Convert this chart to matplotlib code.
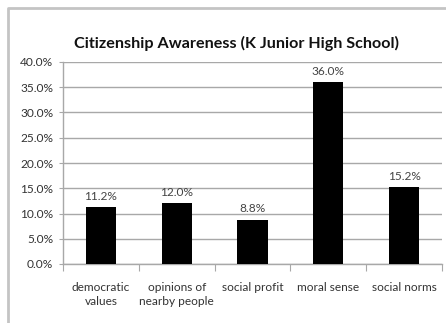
import matplotlib
matplotlib.use("Agg")
import matplotlib.pyplot as plt
from matplotlib.lines import Line2D
import numpy as np

categories = ["democratic\nvalues", "opinions of\nnearby people", "social profit", "moral sense", "social norms"]
values = [11.2, 12.0, 8.8, 36.0, 15.2]
labels = ["11.2%", "12.0%", "8.8%", "36.0%", "15.2%"]
yticks = [0, 5, 10, 15, 20, 25, 30, 35, 40]

plt.rcParams['font.family'] = ['Lato', 'DejaVu Sans']
W, H = 446, 323
fig = plt.figure(figsize=(W/100, H/100), dpi=100)
fig.patch.set_facecolor('white')

# outer border (left and top edges visible only)
bx, by = 7.5/W, 1-8/H
fig.lines.append(Line2D([bx, bx, 1.0], [0.0, by, by], transform=fig.transFigure,
                        color='#c4c4c4', linewidth=2.0))

ax = fig.add_axes([63/W, 1-264/H, (442-63)/W, (264-62)/H])
x = np.arange(len(values))
ax.bar(x, values, width=0.4, color='black', zorder=3)
ax.set_xlim(-0.5, len(values)-0.5)
ax.set_ylim(0, 40)
ax.set_yticks(yticks)
ax.set_yticklabels([f"{v:.1f}%" for v in yticks], fontsize=8.6, color='#333333')
ax.yaxis.grid(True, color='#a8a8a8', linewidth=1.0, zorder=0)
ax.set_axisbelow(True)
for s in ['top', 'right']:
    ax.spines[s].set_visible(False)
for s in ['left', 'bottom']:
    ax.spines[s].set_color('#a8a8a8')
    ax.spines[s].set_linewidth(1.0)
ax.tick_params(axis='y', length=3, color='#a8a8a8', pad=4)
ax.set_xticks(np.arange(len(values)+1) - 0.5)
ax.set_xticklabels([])
ax.tick_params(axis='x', length=5, color='#a8a8a8')
ax.set_xticks(x, minor=True)
ax.set_xticklabels(categories, minor=True, fontsize=8.6, color='#333333', linespacing=1.3)
ax.tick_params(axis='x', which='minor', length=0, pad=13)

for xi, v, lab in zip(x, values, labels):
    ax.annotate(lab, (xi, v), xytext=(0, 4), textcoords='offset points',
                ha='center', va='bottom', fontsize=8.6, color='#444444')

fig.text(236/W, 1-43/H, "Citizenship Awareness (K Junior High School)", ha='center', va='center',
         fontsize=11.6, fontweight='bold', color='#111111')

fig.savefig("out.png", dpi=100)
